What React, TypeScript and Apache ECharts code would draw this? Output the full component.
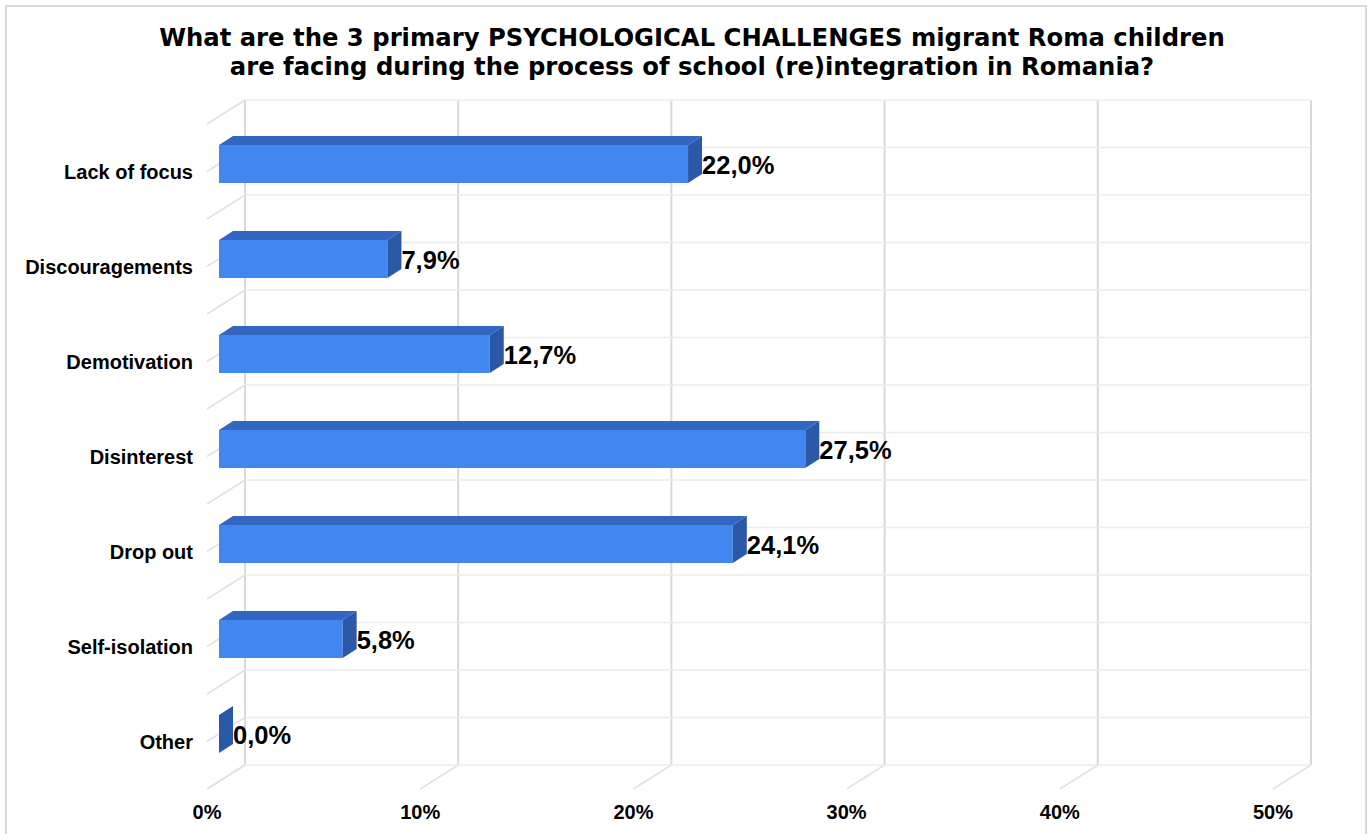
import React, { useEffect, useRef } from "react";
import * as echarts from "echarts";

const categories = [
  "Lack of focus",
  "Discouragements",
  "Demotivation",
  "Disinterest",
  "Drop out",
  "Self-isolation",
  "Other",
];
const values = [22.0, 7.9, 12.7, 27.5, 24.1, 5.8, 0.0];
const xTicks = [0, 10, 20, 30, 40, 50];
const titleLines = [
  "What are the 3 primary PSYCHOLOGICAL CHALLENGES migrant Roma children",
  "are facing during the process of school (re)integration in Romania?",
];

// depth vector from the front plane to the back wall
const DX = 38;
const DY = -24;
const T_FRONT = 12 / 38;
const T_BACK = 26 / 38;

const C_FRONT = "#4286f0";
const C_TOP = "#3366c0";
const C_SIDE = "#2c58a8";

export default function App() {
  const ref = useRef<HTMLDivElement>(null);

  useEffect(() => {
    if (!ref.current) return;
    const chart = echarts.init(ref.current, undefined, { renderer: "svg" });

    const vLine = "#d9d9d9";
    const hLine = "#ececec";
    const dLine = "#e2e2e2";

    const option: any = {
      animation: false,
      backgroundColor: "#ffffff",
      title: {
        text: titleLines.join("\n"),
        left: 687,
        textAlign: "center",
        top: 18,
        textStyle: {
          fontFamily: "DejaVu Sans",
          fontWeight: "bold",
          fontSize: 24.3,
          lineHeight: 29,
          color: "#000000",
        },
      },
      graphic: [
        {
          type: "rect",
          shape: { x: 6, y: 6, width: 1360, height: 840 },
          style: { fill: "none", stroke: "#d9d9d9", lineWidth: 2 },
          silent: true,
        },
      ],
      grid: { left: 207, top: 124, width: 1066, height: 665, containLabel: false },
      xAxis: {
        type: "value",
        min: 0,
        max: 50,
        interval: 10,
        axisLine: { show: false },
        axisTick: { show: false },
        splitLine: { show: false },
        axisLabel: {
          margin: 13,
          formatter: "{value}%",
          fontFamily: "Liberation Sans, Arial",
          fontWeight: "bold",
          fontSize: 20,
          color: "#000000",
        },
      },
      yAxis: {
        type: "category",
        data: categories,
        inverse: true,
        axisLine: { show: false },
        axisTick: { show: false },
        splitLine: { show: false },
        axisLabel: {
          margin: 14,
          fontFamily: "Liberation Sans, Arial",
          fontWeight: "bold",
          fontSize: 20,
          color: "#000000",
        },
      },
      series: [
        // vertical gridlines on back wall + floor diagonals
        {
          type: "custom",
          z: 1,
          silent: true,
          clip: false,
          data: xTicks.map((v) => [v, 0]),
          encode: { x: 0, y: 1 },
          renderItem: (params: any, api: any) => {
            const v = api.value(0);
            const band = api.size([0, 1])[1];
            const topC = api.coord([v, 0]);
            const botC = api.coord([v, categories.length - 1]);
            const x = topC[0];
            const yTop = topC[1] - band / 2;
            const yBot = botC[1] + band / 2;
            return {
              type: "group",
              children: [
                {
                  type: "line",
                  shape: { x1: x + DX, y1: yTop + DY, x2: x + DX, y2: yBot + DY },
                  style: { stroke: vLine, lineWidth: 2 },
                },
                {
                  type: "line",
                  shape: { x1: x + DX, y1: yBot + DY, x2: x, y2: yBot },
                  style: { stroke: dLine, lineWidth: 1.5 },
                },
              ],
            };
          },
        },
        // horizontal lines on back wall + left wall diagonals
        {
          type: "custom",
          z: 1,
          silent: true,
          clip: false,
          data: categories.map((c, i) => [0, i]),
          encode: { x: 0, y: 1 },
          renderItem: (params: any, api: any) => {
            const i = api.value(1);
            const band = api.size([0, 1])[1];
            const c0 = api.coord([xTicks[0], i]);
            const c1 = api.coord([xTicks[xTicks.length - 1], i]);
            const ys = [c0[1] - band / 2, c0[1]];
            if (i === categories.length - 1) ys.push(c0[1] + band / 2);
            const children: any[] = [];
            ys.forEach((y) => {
              children.push({
                type: "line",
                shape: { x1: c0[0] + DX, y1: y + DY, x2: c1[0] + DX, y2: y + DY },
                style: { stroke: hLine, lineWidth: 1.5 },
              });
              children.push({
                type: "line",
                shape: { x1: c0[0] + DX, y1: y + DY, x2: c0[0], y2: y },
                style: { stroke: dLine, lineWidth: 1.5 },
              });
            });
            return { type: "group", children };
          },
        },
        // 3D bars
        {
          type: "custom",
          z: 5,
          clip: false,
          data: values.map((v, i) => [v, i]),
          encode: { x: 0, y: 1 },
          renderItem: (params: any, api: any) => {
            const v = api.value(0);
            const i = api.value(1);
            const band = api.size([0, 1])[1];
            const h = band * 0.4;
            const p0 = api.coord([0, i]);
            const p1 = api.coord([v, i]);
            const fx0 = p0[0] + DX * T_FRONT;
            const fx1 = p1[0] + DX * T_FRONT;
            const fyc = p0[1] + DY * T_FRONT;
            const fyT = fyc - h / 2;
            const fyB = fyc + h / 2;
            const ddx = DX * (T_BACK - T_FRONT);
            const ddy = DY * (T_BACK - T_FRONT);
            const label = v.toFixed(1).replace(".", ",") + "%";
            const children: any[] = [];
            if (fx1 - fx0 > 0.5) {
              children.push({
                type: "rect",
                shape: { x: fx0, y: fyT, width: fx1 - fx0, height: h },
                style: { fill: C_FRONT },
              });
              children.push({
                type: "polygon",
                shape: {
                  points: [
                    [fx0, fyT],
                    [fx1, fyT],
                    [fx1 + ddx, fyT + ddy],
                    [fx0 + ddx, fyT + ddy],
                  ],
                },
                style: { fill: C_TOP },
              });
            }
            children.push({
              type: "polygon",
              shape: {
                points: [
                  [fx1, fyT],
                  [fx1 + ddx, fyT + ddy],
                  [fx1 + ddx, fyB + ddy],
                  [fx1, fyB],
                ],
              },
              style: { fill: C_SIDE },
            });
            children.push({
              type: "text",
              x: fx1 + ddx,
              y: fyc + 1,
              style: {
                text: label,
                align: "left",
                verticalAlign: "middle",
                fontFamily: "Liberation Sans, Arial",
                fontWeight: "bold",
                fontSize: 25.5,
                fill: "#000000",
              },
            });
            return { type: "group", children };
          },
        },
      ],
    };

    chart.setOption(option);
    return () => chart.dispose();
  }, []);

  return (
    <div
      ref={ref}
      style={{ position: "fixed", left: 0, top: 0, width: 1367, height: 834 }}
    />
  );
}
